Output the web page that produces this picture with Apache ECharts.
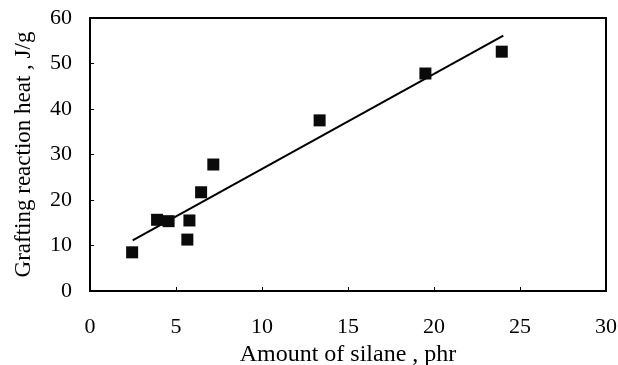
<!DOCTYPE html>
<html>
<head>
<meta charset="utf-8">
<script src="https://cdn.jsdelivr.net/npm/echarts@6/dist/echarts.min.js"></script>
<style>
  html, body { margin: 0; padding: 0; background: #fff; }
  #chart { width: 618px; height: 365px; }
</style>
</head>
<body>
<div id="chart"></div>
<script>
// silane amount (phr) vs grafting reaction heat (J/g)
const silane = [2.45, 3.9, 4.57, 5.78, 5.66, 6.46, 7.17, 13.35, 19.5, 23.94];
const heat = [8.5, 15.65, 15.35, 15.5, 11.3, 21.7, 27.8, 37.5, 47.8, 52.6];
// regression line endpoints
const fitX = [2.48, 24.03];
const fitY = [11.1, 56.1];

const serif = "Liberation Serif";
const chart = echarts.init(document.getElementById("chart"));

chart.setOption({
  animation: false,
  grid: {
    left: 90,
    right: 12,
    top: 18,
    bottom: 74,
    outerBoundsMode: "none",
    show: true,
    borderColor: "#000",
    borderWidth: 2,
  },
  xAxis: {
    type: "value",
    min: 0,
    max: 30,
    interval: 5,
    name: "Amount of silane , phr",
    nameLocation: "middle",
    nameGap: 47,
    nameTextStyle: { fontFamily: serif, fontSize: 24, color: "#000" },
    axisLine: { lineStyle: { color: "#000", width: 2 } },
    axisTick: { inside: true, length: 4, lineStyle: { color: "#000" } },
    axisLabel: { fontFamily: serif, fontSize: 22, color: "#000", margin: 25 },
    splitLine: { show: false },
  },
  yAxis: {
    type: "value",
    min: 0,
    max: 60,
    interval: 10,
    name: "Grafting reaction heat , J/g",
    nameLocation: "middle",
    nameGap: 55,
    nameTextStyle: { fontFamily: serif, fontSize: 23, color: "#000" },
    axisLine: { lineStyle: { color: "#000", width: 2 } },
    axisTick: { inside: true, length: 4, lineStyle: { color: "#000" } },
    axisLabel: { fontFamily: serif, fontSize: 22, color: "#000", margin: 18 },
    splitLine: { show: false },
  },
  series: [
    {
      type: "line",
      data: fitX.map((x, i) => [x, fitY[i]]),
      symbol: "none",
      lineStyle: { color: "#000", width: 2 },
      z: 2,
    },
    {
      type: "scatter",
      data: silane.map((x, i) => [x, heat[i]]),
      symbol: "rect",
      symbolSize: 12,
      itemStyle: { color: "#0a0a0a", opacity: 1 },
      z: 3,
    },
  ],
});
</script>
</body>
</html>
